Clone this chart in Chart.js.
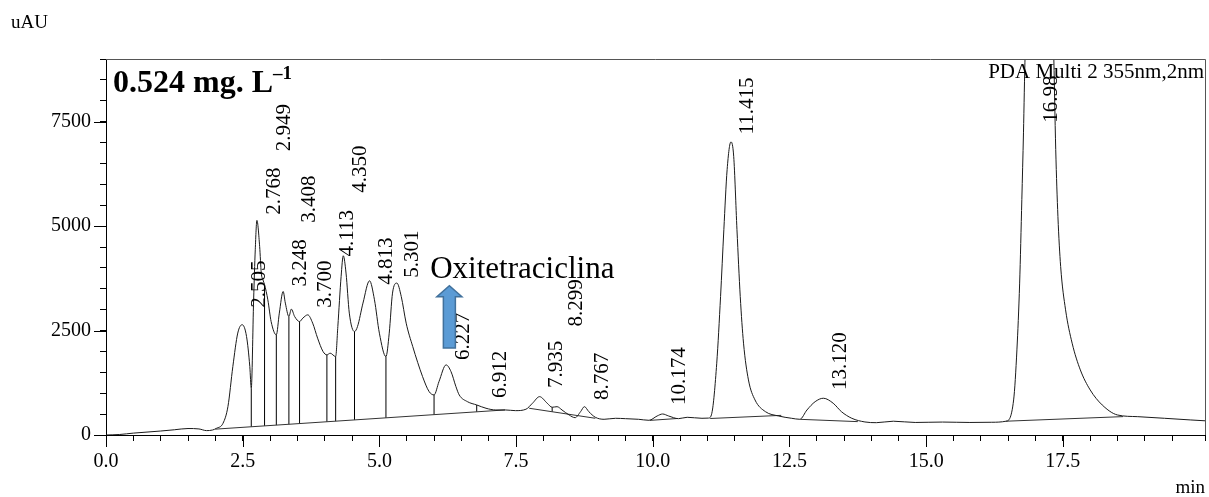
<!DOCTYPE html>
<html>
<head>
<meta charset="utf-8">
<script src="https://cdn.jsdelivr.net/npm/chart.js"></script>
<style>
    html, body { margin: 0; padding: 0; background: #fff; }
    #wrap { width: 1209px; height: 497px; }
</style>
</head>
<body>
<div id="wrap"><canvas id="chromatogram" width="1209" height="497"></canvas></div>
<script>
// Chromatogram trace (retention time in min, signal in uAU)
const traceTime = [
    0.00, 0.25, 0.50, 0.75, 1.00, 1.25, 1.50, 1.70, 1.84, 1.95,
    2.02, 2.14, 2.23, 2.32, 2.41, 2.49, 2.57, 2.63, 2.657, 2.70,
    2.73, 2.76, 2.81, 2.84, 2.87, 2.90, 2.96, 3.02, 3.115, 3.17,
    3.24, 3.28, 3.345, 3.39, 3.45, 3.54, 3.60, 3.69, 3.78, 3.87,
    3.97, 4.04, 4.10, 4.20, 4.24, 4.30, 4.34, 4.39, 4.45, 4.545,
    4.60, 4.70, 4.82, 4.91, 5.00, 5.12, 5.18, 5.24, 5.32, 5.40,
    5.49, 5.61, 5.79, 5.91, 6.00, 6.09, 6.22, 6.31, 6.40, 6.46,
    6.61, 6.78, 6.95, 7.13, 7.31, 7.49, 7.68, 7.80, 7.93, 8.07,
    8.16, 8.25, 8.34, 8.47, 8.58, 8.68, 8.75, 8.83, 8.95, 9.11,
    9.32, 9.50, 9.74, 9.93, 10.08, 10.18, 10.29, 10.47, 10.63, 10.90,
    11.02, 11.08, 11.17, 11.24, 11.30, 11.36, 11.43, 11.48, 11.54, 11.60,
    11.66, 11.75, 11.87, 12.06, 12.30, 12.54, 12.69, 12.82, 12.97, 13.12,
    13.30, 13.45, 13.64, 13.88, 14.09, 14.40, 14.80, 15.30, 15.80, 16.20,
    16.46, 16.60, 16.66, 16.71, 16.75, 16.78, 16.81, 16.90, 17.07, 17.25,
    17.33, 17.37, 17.41, 17.46, 17.55, 17.67, 17.82, 18.00, 18.22, 18.50,
    18.87, 19.36, 19.84, 20.10
];
const traceSignal = [
    0, 12, 45, 70, 95, 125, 155, 145, 105, 120,
    160, 280, 680, 1640, 2440, 2640, 2360, 1640, 1120, 3236,
    4434, 5137, 4514, 3876, 3715, 3600, 3236, 2716, 2397, 2917,
    3435, 3157, 2836, 3013, 2836, 2716, 2797, 2876, 2677, 2318,
    1997, 1918, 1958, 1877, 2596, 3795, 4290, 3876, 2917, 2476,
    2596, 3157, 3691, 3236, 2437, 1877, 2437, 3396, 3636, 3315,
    2677, 2117, 1398, 1038, 959, 1278, 1678, 1517, 1158, 959,
    798, 719, 640, 599, 599, 583, 616, 760, 918, 760,
    664, 678, 599, 479, 415, 559, 678, 559, 424, 376,
    400, 391, 376, 352, 455, 503, 455, 391, 424, 400,
    405, 520, 1718, 3315, 4914, 6352, 7016, 6671, 4914, 3315,
    2198, 1318, 839, 559, 455, 400, 376, 599, 798, 880,
    760, 559, 400, 312, 295, 330, 300, 310, 300, 305,
    330, 839, 2037, 3636, 5633, 7232, 9100, 12000, 14000, 12500,
    9300, 6831, 5233, 4034, 2996, 2198, 1558, 1079, 719, 479,
    439, 400, 360, 340
];

// Integration baselines drawn under the peaks
const baselineSegments = [
    [[2.00, 140], [7.30, 600]],
    [[7.74, 640], [8.95, 400]],
    [[9.95, 350], [10.45, 395]],
    [[11.05, 395], [12.35, 470]],
    [[12.70, 375], [13.75, 320]],
    [[16.46, 330], [18.60, 440]]
];

// Vertical drop lines between unresolved peaks
const dropTime = [2.657, 2.90, 3.115, 3.345, 3.54, 4.04, 4.20, 4.545, 5.12, 6.00, 6.78, 8.16];
const dropLow  = [197, 218, 237, 257, 274, 317, 331, 361, 411, 487, 555, 557];
const dropHigh = [1120, 3600, 2397, 2836, 2716, 1918, 1877, 2476, 1877, 959, 719, 664];

// Peak labels: retention time text and the signal level where the text starts
const peakLabels = ['2.505', '2.768', '2.949', '3.248', '3.408', '3.700', '4.113', '4.350', '4.813', '5.301',
    '6.227', '6.912', '7.935', '8.299', '8.767', '10.174', '11.415', '13.120', '16.98'];
const peakLabelY = [3044, 5273, 6791, 3555, 5082, 3044, 4274, 5801, 3596, 3763,
    1798, 887, 1127, 2596, 839, 719, 7191, 1079, 7472];

// Axis ticks
const xMajorTicks = [0, 2.5, 5, 7.5, 10, 12.5, 15, 17.5];
const xTickLabels = ['0.0', '2.5', '5.0', '7.5', '10.0', '12.5', '15.0', '17.5'];
const yMajorTicks = [0, 2500, 5000, 7500];
const yTickLabels = ['0', '2500', '5000', '7500'];

// Annotations
const concentrationText = '0.524 mg. L';
const detectorText = 'PDA Multi 2 355nm,2nm';
const analyteText = 'Oxitetraciclina';
const analyteTextPos = [5.93, 3763];
const arrowPos = { x: 6.28, bottom: 2085, top: 3571 };

const SERIF = '"Liberation Serif", "Times New Roman", serif';

// Build datasets
function buildDatasets() {
    const datasets = [];

    datasets.push({
        data: traceTime.map((t, i) => ({ x: t, y: traceSignal[i] })),
        borderColor: '#1a1a1a',
        borderWidth: 1,
        pointRadius: 0,
        showLine: true,
        cubicInterpolationMode: 'monotone',
        fill: false
    });

    baselineSegments.forEach(seg => {
        datasets.push({
            data: seg.map(p => ({ x: p[0], y: p[1] })),
            borderColor: '#333',
            borderWidth: 1,
            pointRadius: 0,
            showLine: true
        });
    });

    dropTime.forEach((t, i) => {
        datasets.push({
            data: [{ x: t, y: dropLow[i] }, { x: t, y: dropHigh[i] }],
            borderColor: '#000',
            borderWidth: 1,
            pointRadius: 0,
            showLine: true
        });
    });

    return datasets;
}

// Frame, longer major ticks and text annotations
const decorations = {
    id: 'decorations',
    afterDraw(chart) {
        const { ctx, chartArea: area, scales: { x, y } } = chart;
        ctx.save();

        // Top and right frame lines
        ctx.strokeStyle = '#555';
        ctx.lineWidth = 1;
        ctx.beginPath();
        ctx.moveTo(area.left, area.top + 0.5);
        ctx.lineTo(area.right + 0.5, area.top + 0.5);
        ctx.lineTo(area.right + 0.5, area.bottom);
        ctx.stroke();

        // Major ticks are longer than minor ones
        ctx.strokeStyle = '#000';
        ctx.beginPath();
        xMajorTicks.forEach(v => {
            const px = Math.round(x.getPixelForValue(v)) + 0.5;
            ctx.moveTo(px, area.bottom);
            ctx.lineTo(px, area.bottom + 12);
        });
        yMajorTicks.forEach(v => {
            const py = Math.round(y.getPixelForValue(v)) + 0.5;
            ctx.moveTo(area.left - 12, py);
            ctx.lineTo(area.left, py);
        });
        ctx.stroke();

        ctx.fillStyle = '#000';

        // Peak retention time labels, rotated
        ctx.font = '21px ' + SERIF;
        ctx.textAlign = 'left';
        ctx.textBaseline = 'middle';
        peakLabels.forEach((label, i) => {
            const px = x.getPixelForValue(parseFloat(label)) + 17;
            const py = y.getPixelForValue(peakLabelY[i]);
            ctx.save();
            ctx.translate(px, py);
            ctx.rotate(-Math.PI / 2);
            ctx.fillText(label, 0, 0);
            ctx.restore();
        });

        // Concentration title
        ctx.textBaseline = 'alphabetic';
        ctx.font = 'bold 32px ' + SERIF;
        ctx.fillText(concentrationText, area.left + 7, area.top + 33);
        const w = ctx.measureText(concentrationText).width;
        ctx.font = 'bold 19px ' + SERIF;
        ctx.fillText('\u20131', area.left + 7 + w, area.top + 20);

        // Detector info
        ctx.font = '21px ' + SERIF;
        ctx.textAlign = 'right';
        ctx.fillText(detectorText, area.right - 1, area.top + 19);

        // Axis titles
        ctx.font = '19px ' + SERIF;
        ctx.textAlign = 'left';
        ctx.fillText('uAU', 11, 28);
        ctx.textAlign = 'right';
        ctx.fillText('min', area.right, 493);

        // Analyte name and arrow
        ctx.font = '31px ' + SERIF;
        ctx.textAlign = 'left';
        ctx.fillText(analyteText, x.getPixelForValue(analyteTextPos[0]), y.getPixelForValue(analyteTextPos[1]));

        const ax = x.getPixelForValue(arrowPos.x);
        const ab = y.getPixelForValue(arrowPos.bottom);
        const at = y.getPixelForValue(arrowPos.top);
        ctx.beginPath();
        ctx.moveTo(ax - 6, ab);
        ctx.lineTo(ax - 6, at + 11);
        ctx.lineTo(ax - 12.5, at + 11);
        ctx.lineTo(ax, at);
        ctx.lineTo(ax + 12.5, at + 11);
        ctx.lineTo(ax + 6, at + 11);
        ctx.lineTo(ax + 6, ab);
        ctx.closePath();
        ctx.fillStyle = '#5B9BD5';
        ctx.fill();
        ctx.strokeStyle = '#41719C';
        ctx.lineWidth = 1.5;
        ctx.stroke();

        ctx.restore();
    }
};

function labelFor(value, majors, labels) {
    const idx = majors.findIndex(m => Math.abs(m - value) < 1e-6);
    return idx >= 0 ? labels[idx] : '';
}

const ctx = document.getElementById('chromatogram').getContext('2d');
const chromatogramChart = new Chart(ctx, {
    type: 'scatter',
    data: { datasets: buildDatasets() },
    options: {
        responsive: false,
        animation: false,
        events: [],
        layout: { padding: { top: 59, right: 4, left: 0, bottom: 0 } },
        plugins: {
            legend: { display: false },
            tooltip: { enabled: false }
        },
        scales: {
            x: {
                type: 'linear',
                min: 0,
                max: 20.1,
                afterFit: scale => {
                    scale.height = 62;
                    scale.paddingLeft = 0;
                    scale.paddingRight = 0;
                },
                border: { color: '#000', width: 1 },
                grid: { drawOnChartArea: false, drawTicks: true, tickLength: 6, color: '#000' },
                ticks: {
                    stepSize: 0.5,
                    autoSkip: false,
                    maxRotation: 0,
                    padding: 9,
                    color: '#000',
                    font: { family: SERIF, size: 20 },
                    callback: v => labelFor(v, xMajorTicks, xTickLabels)
                }
            },
            y: {
                type: 'linear',
                min: 0,
                max: 9000,
                afterFit: scale => {
                    scale.width = 106;
                    scale.paddingTop = 0;
                    scale.paddingBottom = 0;
                },
                border: { color: '#000', width: 1 },
                grid: { drawOnChartArea: false, drawTicks: true, tickLength: 6, color: '#000' },
                ticks: {
                    stepSize: 500,
                    autoSkip: false,
                    padding: 9,
                    color: '#000',
                    font: { family: SERIF, size: 20 },
                    callback: v => labelFor(v, yMajorTicks, yTickLabels)
                }
            }
        }
    },
    plugins: [decorations]
});
</script>
</body>
</html>
